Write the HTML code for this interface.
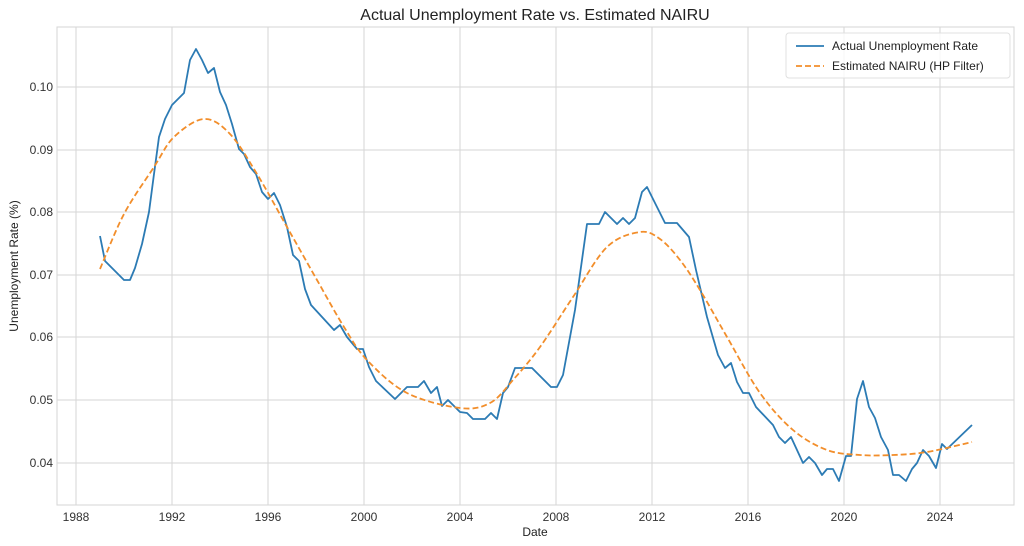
<!DOCTYPE html>
<html><head><meta charset="utf-8"><style>
body{margin:0;background:#fff;}
svg{display:block;font-family:"Liberation Sans",sans-serif;}
</style></head><body>
<svg width="1024" height="546" viewBox="0 0 1024 546" xmlns="http://www.w3.org/2000/svg">
<rect width="1024" height="546" fill="#fff"/>
<g stroke="#d5d5d5" stroke-width="1">
<line x1="76" y1="27" x2="76" y2="505"/><line x1="172" y1="27" x2="172" y2="505"/><line x1="268" y1="27" x2="268" y2="505"/><line x1="364" y1="27" x2="364" y2="505"/><line x1="460" y1="27" x2="460" y2="505"/><line x1="556" y1="27" x2="556" y2="505"/><line x1="652" y1="27" x2="652" y2="505"/><line x1="748" y1="27" x2="748" y2="505"/><line x1="844" y1="27" x2="844" y2="505"/><line x1="940" y1="27" x2="940" y2="505"/>
<line x1="57" y1="87" x2="1014" y2="87"/><line x1="57" y1="150" x2="1014" y2="150"/><line x1="57" y1="212" x2="1014" y2="212"/><line x1="57" y1="275" x2="1014" y2="275"/><line x1="57" y1="337" x2="1014" y2="337"/><line x1="57" y1="400" x2="1014" y2="400"/><line x1="57" y1="463" x2="1014" y2="463"/>
</g>
<rect x="57" y="27" width="957" height="478" fill="none" stroke="#d5d5d5"/>
<polyline fill="none" stroke="#2c7bb4" stroke-width="1.8" stroke-linejoin="round" points="100,236 105,261 124,280 130,280 135,268 142,244 149,212 154,174 159,137 165,119 172,105 184,93 190,60 196,49 202,60 208,73 214,68 220,92 226,105 232,124 239,149 244,154 250,167 256,174 262,192 268,199 274,193 280,205 287,227 293,255 299,261 305,289 311,305 334,330 340,325 347,337 357,349 363,349 369,367 376,381 395,399 407,387 418,387 424,381 431,393 437,387 442,406 448,400 460,412 467,413 473,419 485,419 491,413 497,419 503,393 508,387 515,368 532,368 551,387 557,387 563,375 575,310 587,224 599,224 605,212 617,224 623,218 629,224 635,218 642,192 647,187 660,213 665,223 677,223 689,237 696,270 707,317 718,355 725,368 731,363 737,382 743,393 749,393 756,407 773,425 779,437 785,443 791,437 803,463 809,457 815,463 822,475 827,469 833,469 839,481 846,456 851,456 857,399 863,381 869,407 875,418 881,437 888,450 893,475 899,475 906,481 912,469 917,463 923,450 929,456 936,468 942,444 947,449 972,425"/>
<path id="nairu" fill="none" stroke="#f28e2b" stroke-width="1.8" stroke-dasharray="6,3" d=""/>
<g font-size="12" fill="#333" text-anchor="end">
<text x="53" y="91">0.10</text><text x="53" y="154">0.09</text><text x="53" y="216">0.08</text><text x="53" y="279">0.07</text><text x="53" y="341">0.06</text><text x="53" y="404">0.05</text><text x="53" y="467">0.04</text>
</g>
<g font-size="12" fill="#333" text-anchor="middle">
<text x="76" y="521">1988</text><text x="172" y="521">1992</text><text x="268" y="521">1996</text><text x="364" y="521">2000</text><text x="460" y="521">2004</text><text x="556" y="521">2008</text><text x="652" y="521">2012</text><text x="748" y="521">2016</text><text x="844" y="521">2020</text><text x="940" y="521">2024</text>
</g>
<text x="535" y="536" font-size="12" fill="#222" text-anchor="middle">Date</text>
<text transform="translate(18,266) rotate(-90)" font-size="12" fill="#222" text-anchor="middle">Unemployment Rate (%)</text>
<text x="535" y="20" font-size="16" fill="#222" text-anchor="middle">Actual Unemployment Rate vs. Estimated NAIRU</text>
<rect x="786" y="33" width="224" height="45" rx="3" fill="#fff" fill-opacity="0.8" stroke="#e0e0e0"/>
<line x1="796" y1="46" x2="824" y2="46" stroke="#2c7bb4" stroke-width="1.8"/>
<line x1="796" y1="66" x2="824" y2="66" stroke="#f28e2b" stroke-width="1.8" stroke-dasharray="6,3"/>
<text x="832" y="50" font-size="12" fill="#222">Actual Unemployment Rate</text>
<text x="832" y="70" font-size="12" fill="#222">Estimated NAIRU (HP Filter)</text>
</svg>
<script>
var p=[[100,269],[124,214],[154,167],[174,137],[204,119],[230,134],[257,174],[287,227],[317,280],[344,327],[367,360],[407,393],[460,408],[490,403],[513,380],[540,347],[573,297],[607,247],[640,232],[660,239],[680,260],[700,290],[727,337],[760,393],[793,430],[827,450],[860,455],[893,455],[927,452],[972,442]];
var d="M"+p[0][0]+","+p[0][1];
for(var i=0;i<p.length-1;i++){
 var a=p[i-1]||p[i],b=p[i],c=p[i+1],e=p[i+2]||c;
 var c1=[b[0]+(c[0]-a[0])/6,b[1]+(c[1]-a[1])/6],c2=[c[0]-(e[0]-b[0])/6,c[1]-(e[1]-b[1])/6];
 d+=" C"+c1.join(",")+" "+c2.join(",")+" "+c.join(",");
}
document.getElementById("nairu").setAttribute("d",d);
</script>
</body></html>
